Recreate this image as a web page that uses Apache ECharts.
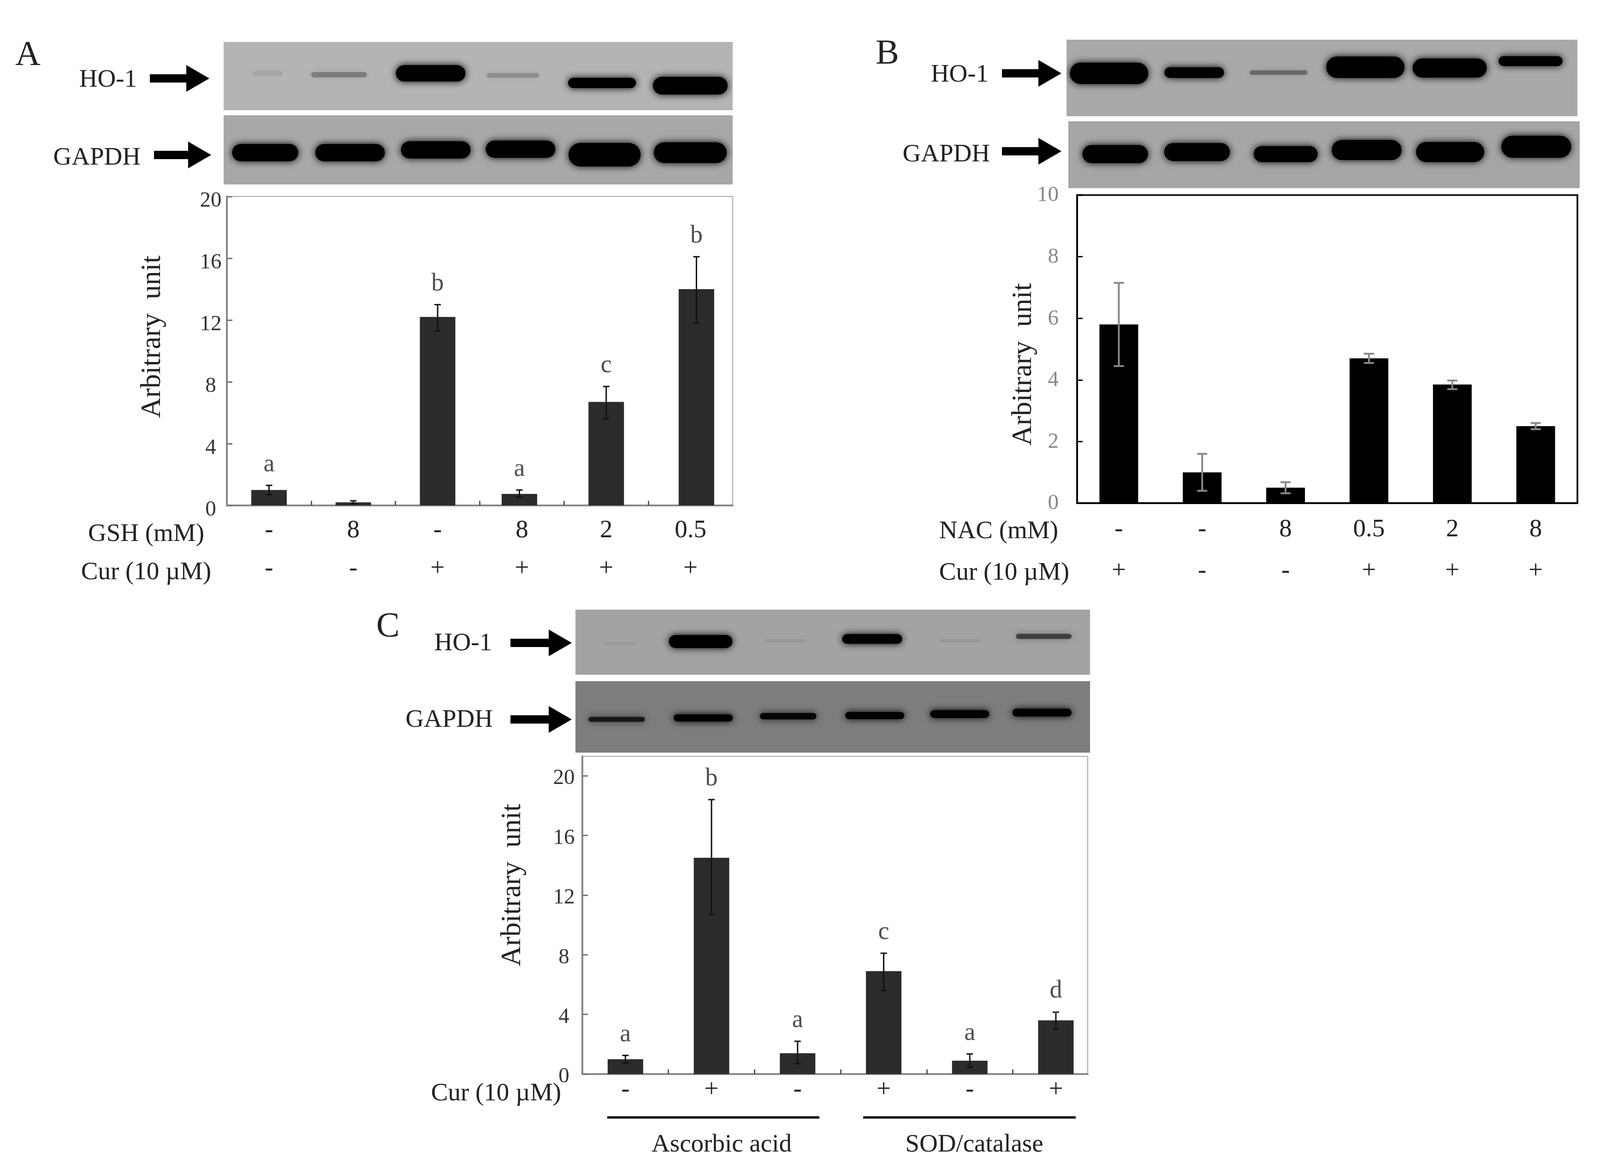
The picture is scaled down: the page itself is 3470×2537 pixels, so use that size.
<!DOCTYPE html>
<html>
<head>
<meta charset="utf-8">
<title>HO-1 expression</title>
<style>
  html, body { margin: 0; padding: 0; background: #fff; }
  #main { width: 3470px; height: 2537px; }
</style>
<script src="https://cdn.jsdelivr.net/npm/echarts@6/dist/echarts.min.js"></script>
</head>
<body>
<div id="main"></div>
<script>
// panel A
const gshLabels = ['-', '8', '-', '8', '2', '0.5'];
const curLabelsA = ['-', '-', '+', '+', '+', '+'];
const lanesA = [0.5, 1.5, 2.5, 3.47, 4.5, 5.57];
const valuesA = [1.0, 0.2, 12.2, 0.75, 6.7, 14.0];
const errLowA = [0.7, 0.12, 11.3, 0.55, 5.6, 11.8];
const errHighA = [1.3, 0.3, 13.0, 1.0, 7.7, 16.1];
const lettersA = ['a', '', 'b', 'a', 'c', 'b'];

// panel B
const nacLabels = ['-', '-', '8', '0.5', '2', '8'];
const curLabelsB = ['+', '-', '-', '+', '+', '+'];
const lanesB = [0.5, 1.5, 2.5, 3.5, 4.5, 5.5];
const valuesB = [5.8, 1.0, 0.5, 4.7, 3.85, 2.5];
const errLowB = [4.45, 0.4, 0.32, 4.55, 3.7, 2.4];
const errHighB = [7.15, 1.6, 0.68, 4.85, 3.98, 2.6];

// panel C
const curLabelsC = ['-', '+', '-', '+', '-', '+'];
const lanesC = [0.5, 1.5, 2.5, 3.5, 4.5, 5.5];
const valuesC = [1.0, 14.5, 1.4, 6.9, 0.9, 3.6];
const errLowC = [0.75, 10.7, 0.7, 5.6, 0.45, 3.0];
const errHighC = [1.25, 18.4, 2.2, 8.1, 1.35, 4.15];
const lettersC = ['a', 'b', 'a', 'c', 'a', 'd'];

// blot bands: lane position, band y (0 top, 1 bottom), length and thickness, darkness
const hoBandLaneA = [0.52, 1.36, 2.44, 3.41, 4.46, 5.5];
const hoBandYA = [0.46, 0.48, 0.46, 0.49, 0.6, 0.64];
const hoBandLenA = [0.35, 0.66, 0.82, 0.62, 0.8, 0.88];
const hoBandThickA = [0.08, 0.08, 0.24, 0.07, 0.15, 0.26];
const hoBandDarkA = [0.08, 0.28, 1, 0.2, 1, 1];

const gapdhBandLaneA = [0.49, 1.49, 2.5, 3.5, 4.49, 5.5];
const gapdhBandYA = [0.54, 0.54, 0.5, 0.49, 0.57, 0.54];
const gapdhBandLenA = [0.78, 0.82, 0.82, 0.82, 0.85, 0.86];
const gapdhBandThickA = [0.25, 0.25, 0.25, 0.25, 0.34, 0.3];
const gapdhBandDarkA = [1, 1, 1, 1, 1, 1];

const hoBandLaneB = [0.5, 1.5, 2.49, 3.51, 4.5, 5.45];
const hoBandYB = [0.44, 0.43, 0.43, 0.36, 0.37, 0.28];
const hoBandLenB = [0.92, 0.7, 0.68, 0.92, 0.87, 0.75];
const hoBandThickB = [0.28, 0.14, 0.06, 0.28, 0.25, 0.13];
const hoBandDarkB = [1, 1, 0.35, 1, 1, 1];

const gapdhBandLaneB = [0.55, 1.51, 2.55, 3.5, 4.48, 5.49];
const gapdhBandYB = [0.49, 0.46, 0.49, 0.43, 0.46, 0.38];
const gapdhBandLenB = [0.77, 0.77, 0.75, 0.82, 0.8, 0.82];
const gapdhBandThickB = [0.27, 0.27, 0.24, 0.3, 0.3, 0.33];
const gapdhBandDarkB = [1, 1, 1, 1, 1, 1];

const hoBandLaneC = [0.52, 1.46, 2.45, 3.46, 4.48, 5.46];
const hoBandYC = [0.52, 0.49, 0.48, 0.45, 0.48, 0.41];
const hoBandLenC = [0.36, 0.74, 0.48, 0.7, 0.48, 0.65];
const hoBandThickC = [0.05, 0.2, 0.05, 0.15, 0.05, 0.08];
const hoBandDarkC = [0.05, 1, 0.08, 1, 0.08, 0.55];

const gapdhBandLaneC = [0.48, 1.49, 2.48, 3.49, 4.48, 5.44];
const gapdhBandYC = [0.535, 0.515, 0.49, 0.48, 0.46, 0.44];
const gapdhBandLenC = [0.66, 0.69, 0.66, 0.69, 0.69, 0.69];
const gapdhBandThickC = [0.07, 0.1, 0.09, 0.1, 0.11, 0.11];
const gapdhBandDarkC = [0.75, 1, 0.9, 1, 1, 1];

const FONT = '"Liberation Serif", "Times New Roman", serif';
const MIDPOINTS = [0.5, 1.5, 2.5, 3.5, 4.5, 5.5];
const BOUNDARIES = [1, 2, 3, 4, 5];

let grids = [];
let xAxes = [];
let yAxes = [];
let series = [];
let graphics = [];

function addText(text, x, y, size, align, rotation) {
  graphics.push({
    type: 'text',
    x: rotation ? x + 3 : x,
    y: rotation ? y : y + 4,
    rotation: rotation || 0,
    style: {
      text: text,
      fontFamily: FONT,
      fontSize: size,
      fill: '#222',
      align: align,
      verticalAlign: 'middle',
    },
  });
}

function addArrow(x0, x1, y) {
  const neck = x1 - 50;
  graphics.push({
    type: 'polygon',
    shape: {
      points: [
        [x0, y - 9], [neck, y - 9], [neck, y - 29], [x1, y],
        [neck, y + 29], [neck, y + 9], [x0, y + 9],
      ],
    },
    style: { fill: '#000' },
  });
}

function addBlot(box, bg, lane, bandY, len, thick, dark) {
  const g = grids.length;
  grids.push({ show: true, left: box[0], top: box[1], width: box[2], height: box[3], backgroundColor: bg, borderWidth: 0 });
  xAxes.push({ gridIndex: g, type: 'value', min: 0, max: 6, show: false });
  yAxes.push({ gridIndex: g, type: 'value', min: 0, max: 1, inverse: true, show: false });
  series.push({
    type: 'custom',
    xAxisIndex: xAxes.length - 1,
    yAxisIndex: yAxes.length - 1,
    clip: true,
    data: lane.map((v, i) => [v, bandY[i], len[i], thick[i], dark[i]]),
    renderItem: function (params, api) {
      const a = api.coord([api.value(0) - api.value(2) / 2, api.value(1) - api.value(3) / 2]);
      const b = api.coord([api.value(0) + api.value(2) / 2, api.value(1) + api.value(3) / 2]);
      const h = b[1] - a[1];
      return {
        type: 'rect',
        shape: { x: a[0], y: a[1], width: b[0] - a[0], height: h, r: h / 2 },
        style: {
          fill: 'rgba(0,0,0,' + api.value(4) + ')',
          shadowBlur: 16,
          shadowColor: 'rgba(0,0,0,' + api.value(4) + ')',
        },
      };
    },
  });
}

// a row of labels under the plot, one value axis per row so they stack with offset
function addRowAxis(g, labels, cfg, offset) {
  xAxes.push({
    gridIndex: g,
    type: 'value',
    position: 'bottom',
    offset: offset,
    min: 0,
    max: cfg.xMax,
    splitLine: { show: false },
    axisLine: { show: false, onZero: false },
    axisTick: { show: false },
    axisLabel: {
      customValues: MIDPOINTS,
      formatter: (v) => labels[Math.floor(v)],
      margin: cfg.rowMargin,
      fontFamily: FONT,
      fontSize: 55,
      color: '#222',
    },
  });
}

function addPlot(cfg) {
  const g = grids.length;
  grids.push({
    show: true, left: cfg.box[0], top: cfg.box[1], width: cfg.box[2], height: cfg.box[3],
    backgroundColor: '#fff', borderColor: cfg.borderColor, borderWidth: cfg.borderWidth,
  });
  const xIndex = xAxes.length;
  xAxes.push({
    gridIndex: g,
    type: 'value',
    position: 'bottom',
    min: 0,
    max: cfg.xMax,
    splitLine: { show: false },
    axisLine: { onZero: false, lineStyle: { color: cfg.axisColor, width: cfg.axisWidth } },
    axisTick: { show: cfg.xTicks, customValues: BOUNDARIES, inside: true, length: 10, lineStyle: { color: '#555', width: 3 } },
    axisLabel: { show: false },
  });
  cfg.rows.forEach(function (labels, i) {
    addRowAxis(g, labels, cfg, i * cfg.rowGap);
  });
  const yIndex = yAxes.length;
  yAxes.push({
    gridIndex: g,
    type: 'value',
    min: 0,
    max: cfg.yMax,
    interval: cfg.yStep,
    splitLine: { show: false },
    axisLine: { show: true, lineStyle: { color: cfg.axisColor, width: cfg.axisWidth } },
    axisTick: { show: true, inside: true, length: 12, lineStyle: { color: cfg.tickColor, width: 3 } },
    axisLabel: {
      margin: cfg.yLabelMargin,
      align: cfg.yLabelAlign,
      verticalAlign: 'top',
      // the labels sit below their ticks in A and C, level with them in B
      lineHeight: cfg.yLabelLine,
      fontFamily: FONT,
      fontSize: 47,
      color: cfg.yLabelColor,
      showMaxLabel: cfg.yMax % cfg.yStep === 0,
    },
  });
  series.push({
    type: 'bar',
    xAxisIndex: xIndex,
    yAxisIndex: yIndex,
    barWidth: cfg.barWidth,
    data: cfg.values.map((v, i) => [cfg.lanes[i], v]),
    itemStyle: { color: cfg.barColor },
  });
  series.push({
    type: 'custom',
    xAxisIndex: xIndex,
    yAxisIndex: yIndex,
    z: 5,
    data: cfg.low.map((v, i) => [cfg.lanes[i], v, cfg.high[i]]),
    renderItem: function (params, api) {
      const lo = api.coord([api.value(0), api.value(1)]);
      const hi = api.coord([api.value(0), api.value(2)]);
      const cap = cfg.capHalf;
      const style = { stroke: cfg.errColor, lineWidth: cfg.errWidth, fill: null };
      return {
        type: 'group',
        children: [
          { type: 'line', shape: { x1: lo[0], y1: lo[1], x2: hi[0], y2: hi[1] }, style: style },
          { type: 'line', shape: { x1: lo[0] - cap, y1: lo[1], x2: lo[0] + cap, y2: lo[1] }, style: style },
          { type: 'line', shape: { x1: hi[0] - cap, y1: hi[1], x2: hi[0] + cap, y2: hi[1] }, style: style },
        ],
      };
    },
  });
  if (cfg.letters) {
    series.push({
      type: 'scatter',
      xAxisIndex: xIndex,
      yAxisIndex: yIndex,
      symbolSize: 0,
      z: 6,
      data: cfg.high.map((v, i) => [cfg.lanes[i], v]),
      label: {
        show: true,
        position: 'top',
        distance: 18,
        fontFamily: FONT,
        fontSize: 54,
        color: '#222',
        formatter: (p) => cfg.letters[p.dataIndex],
      },
    });
  }
}

// panel A
addBlot([485, 91, 1104, 148], '#b4b4b4', hoBandLaneA, hoBandYA, hoBandLenA, hoBandThickA, hoBandDarkA);
addBlot([485, 250, 1104, 150], '#a8a8a8', gapdhBandLaneA, gapdhBandYA, gapdhBandLenA, gapdhBandThickA, gapdhBandDarkA);
addPlot({
  box: [492, 426, 1097, 670],
  xMax: 6,
  lanes: lanesA,
  rows: [gshLabels, curLabelsA],
  rowMargin: 27,
  rowGap: 83,
  values: valuesA,
  low: errLowA,
  high: errHighA,
  letters: lettersA,
  yMax: 20,
  yStep: 4,
  yLabelMargin: 35,
  yLabelAlign: 'center',
  yLabelLine: 20,
  barWidth: 77,
  barColor: '#2b2b2b',
  axisColor: '#888',
  axisWidth: 4,
  borderColor: '#aaa',
  borderWidth: 2,
  tickColor: '#777',
  yLabelColor: '#333',
  xTicks: true,
  errColor: '#111',
  errWidth: 3,
  capHalf: 7,
});
addText('A', 33, 117, 76, 'left');
addText('HO-1', 297, 170, 55, 'right');
addText('GAPDH', 305, 339, 55, 'right');
addArrow(325, 454, 170);
addArrow(334, 458, 336);
addText('GSH (mM)', 443, 1155, 55, 'right');
addText('Cur (10 µM)', 458, 1238, 55, 'right');
addText('Arbitrary  unit', 328, 730, 61, 'center', Math.PI / 2);

// panel B
addBlot([2313, 86, 1108, 166], '#a9a9a9', hoBandLaneB, hoBandYB, hoBandLenB, hoBandThickB, hoBandDarkB);
addBlot([2317, 263, 1109, 145], '#a6a6a6', gapdhBandLaneB, gapdhBandYB, gapdhBandLenB, gapdhBandThickB, gapdhBandDarkB);
addPlot({
  box: [2336, 423, 1085, 668],
  xMax: 6,
  lanes: lanesB,
  rows: [nacLabels, curLabelsB],
  rowMargin: 30,
  rowGap: 90,
  values: valuesB,
  low: errLowB,
  high: errHighB,
  yMax: 10,
  yStep: 2,
  yLabelMargin: 40,
  yLabelAlign: 'right',
  yLabelLine: 2,
  barWidth: 84,
  barColor: '#000',
  axisColor: '#000',
  axisWidth: 4,
  borderColor: '#222',
  borderWidth: 4,
  tickColor: '#000',
  yLabelColor: '#888',
  xTicks: false,
  errColor: '#888',
  errWidth: 4,
  capHalf: 11,
});
addText('B', 1899, 114, 76, 'left');
addText('HO-1', 2144, 159, 55, 'right');
addText('GAPDH', 2147, 332, 55, 'right');
addArrow(2173, 2302, 159);
addArrow(2173, 2302, 328);
addText('NAC (mM)', 2295, 1149, 55, 'right');
addText('Cur (10 µM)', 2319, 1239, 55, 'right');
addText('Arbitrary  unit', 2217, 790, 61, 'center', Math.PI / 2);

// panel C, lanes are a bit wider than the frame allows so xMax is under 6
addBlot([1248, 1322, 1116, 141], '#a3a3a3', hoBandLaneC, hoBandYC, hoBandLenC, hoBandThickC, hoBandDarkC);
addBlot([1248, 1477, 1116, 155], '#7d7d7d', gapdhBandLaneC, gapdhBandYC, gapdhBandLenC, gapdhBandThickC, gapdhBandDarkC);
addPlot({
  box: [1263, 1640, 1096, 689],
  xMax: 5.87,
  lanes: lanesC,
  rows: [curLabelsC],
  rowMargin: 7,
  rowGap: 0,
  values: valuesC,
  low: errLowC,
  high: errHighC,
  letters: lettersC,
  yMax: 21.3,
  yStep: 4,
  yLabelMargin: 40,
  yLabelAlign: 'center',
  yLabelLine: 12,
  barWidth: 77,
  barColor: '#2b2b2b',
  axisColor: '#888',
  axisWidth: 4,
  borderColor: '#aaa',
  borderWidth: 2,
  tickColor: '#777',
  yLabelColor: '#333',
  xTicks: true,
  errColor: '#111',
  errWidth: 3,
  capHalf: 7,
});
addText('C', 816, 1356, 76, 'left');
addText('HO-1', 1067, 1392, 55, 'right');
addText('GAPDH', 1069, 1558, 55, 'right');
addArrow(1107, 1240, 1394);
addArrow(1107, 1240, 1560);
addText('Cur (10 µM)', 1217, 2368, 55, 'right');
addText('Arbitrary  unit', 1109, 1919, 61, 'center', Math.PI / 2);
addText('Ascorbic acid', 1565, 2479, 55, 'center');
addText('SOD/catalase', 2113, 2479, 55, 'center');
[[1317, 1777], [1872, 2333]].forEach(function (span) {
  graphics.push({
    type: 'line',
    shape: { x1: span[0], y1: 2423, x2: span[1], y2: 2423 },
    style: { stroke: '#000', lineWidth: 5 },
  });
});

let myChart = echarts.init(document.getElementById('main'));
myChart.setOption({
  animation: false,
  backgroundColor: '#fff',
  grid: grids,
  xAxis: xAxes,
  yAxis: yAxes,
  series: series,
  graphic: graphics,
});
</script>
</body>
</html>
